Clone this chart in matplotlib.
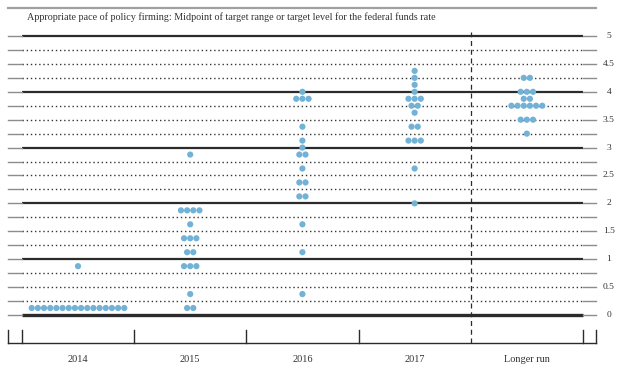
import matplotlib.pyplot as plt
import numpy as np

# FOMC dot plot: (rate, number of participants) per column
columns = ['2014', '2015', '2016', '2017', 'Longer run']
dots_2014 = [(0.125, 16), (0.875, 1)]
dots_2015 = [(0.125, 2), (0.375, 1), (0.875, 3), (1.125, 2), (1.375, 3),
             (1.625, 1), (1.875, 4), (2.875, 1)]
dots_2016 = [(0.375, 1), (1.125, 1), (1.625, 1), (2.125, 2), (2.375, 2),
             (2.625, 1), (2.875, 2), (3.0, 1), (3.125, 1), (3.375, 1),
             (3.875, 3), (4.0, 1)]
dots_2017 = [(2.0, 1), (2.625, 1), (3.125, 3), (3.375, 2), (3.625, 1),
             (3.75, 2), (3.875, 3), (4.0, 1), (4.125, 1), (4.25, 1), (4.375, 1)]
dots_longer = [(3.25, 1), (3.5, 3), (3.75, 6), (3.875, 2), (4.0, 3), (4.25, 2)]
all_dots = [dots_2014, dots_2015, dots_2016, dots_2017, dots_longer]

tick_values = [0, 0.5, 1, 1.5, 2, 2.5, 3, 3.5, 4, 4.5, 5]
tick_labels = ['0', '0.5', '1', '1.5', '2', '2.5', '3', '3.5', '4', '4.5', '5']
title = ('Appropriate pace of policy firming: Midpoint of target range '
         'or target level for the federal funds rate')

serif = ['Liberation Serif', 'DejaVu Serif']
dot_color = '#72b2d6'
line_color = '#2b2b2b'
gray = '#8c8c8c'

fig = plt.figure(figsize=(6.22, 3.69), dpi=100)
ax = fig.add_axes([0, 0, 1, 1])
ax.set_xlim(-0.695, 4.848)
ax.set_ylim(-0.968, 5.645)
ax.axis('off')

x_left, x_right = -0.5, 4.5
x_outer_l, x_outer_r = -0.625, 4.616

# top border and title
ax.plot([x_outer_l, x_outer_r], [5.50, 5.50], color='#a0a0a0', lw=1.6)
ax.text(-0.455, 5.33, title, family=serif, fontsize=7.3, color='#333333',
        ha='left', va='center')

# horizontal grid lines every 0.25
for v in np.arange(0, 5.01, 0.25):
    if abs(v - round(v)) < 1e-9:
        lw = 2.4 if v == 0 else 1.6
        ax.plot([x_left, x_right], [v, v], color=line_color, lw=lw,
                solid_capstyle='butt', zorder=2)
    else:
        ax.plot([x_left, x_right], [v, v], color='#333333', lw=1.0,
                linestyle=(0, (1, 2.0)), zorder=2)
    ax.plot([x_outer_l, x_left], [v, v], color=gray, lw=1.0, zorder=2)
    ax.plot([x_right, x_outer_r], [v, v], color=gray, lw=1.0, zorder=2)

for v, lab in zip(tick_values, tick_labels):
    ax.text(4.73, v, lab, family=serif, fontsize=6.8, color='#333333',
            ha='center', va='center')

# bottom axis
y_bot = -0.502
ax.plot([x_outer_l, x_outer_r], [y_bot, y_bot], color=line_color, lw=1.0)
for xt in [x_outer_l, -0.5, 0.5, 1.5, 2.5, 4.5, x_outer_r]:
    ax.plot([xt, xt], [y_bot, -0.27], color=line_color, lw=1.0)

# dashed separator before longer run
ax.plot([3.5, 3.5], [y_bot, 5.08], color=line_color, lw=0.9,
        linestyle=(0, (4, 3)), zorder=2)

for i, lab in enumerate(columns):
    ax.text(i, -0.79, lab, family=serif, fontsize=7.4, color='#333333',
            ha='center', va='center')

# dots
spacing = 0.055
for i, col in enumerate(all_dots):
    for rate, n in col:
        xs = i + (np.arange(n) - (n - 1) / 2) * spacing
        ax.scatter(xs, [rate] * n, s=20, color=dot_color, edgecolors='none',
                   zorder=3)

fig.savefig('out.png', dpi=100)
